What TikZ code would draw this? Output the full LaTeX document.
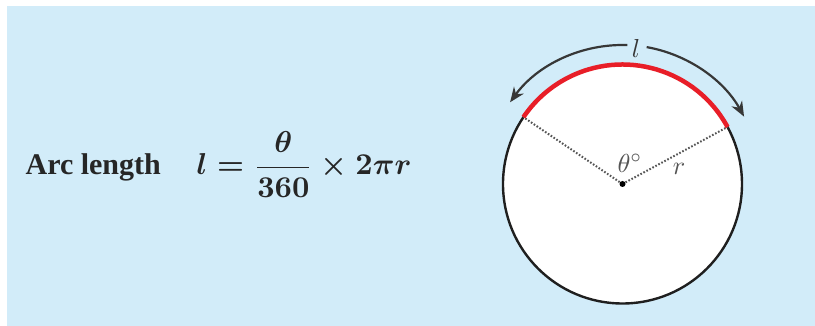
\documentclass[tikz,border=0pt]{standalone}
\usepackage{fontspec}
\newfontfamily\timesfont{Liberation Serif}
\usetikzlibrary{arrows.meta,calc}
\definecolor{bgblue}{RGB}{210,236,249}
\definecolor{arcred}{RGB}{232,30,40}
\definecolor{arrgray}{RGB}{55,55,55}
\definecolor{lblgray}{RGB}{85,85,85}
\tikzset{
  circleline/.style={line width=2.4pt, draw=black!88, fill=white},
  redarc/.style={line width=4.5pt, draw=arcred},
  radline/.style={line width=2pt, draw=lblgray, dash pattern=on 1.6pt off 1.8pt},
  measarrow/.style={line width=2.2pt, draw=arrgray, -{Stealth[length=15pt,width=12pt]}},
  smalllbl/.style={text=lblgray, scale=2.6, inner sep=0pt},
}
\begin{document}
\begin{tikzpicture}[x=1pt,y=1pt]
\useasboundingbox (0,0) rectangle (815,326);
\fill[bgblue] (7,0) rectangle (815,320);
% circle
\coordinate (O) at (622.5,142);
\draw[circleline] (O) circle[radius=119.5];
% radii
\coordinate (A) at ($(O)+(146:119.5)$);
\coordinate (B) at ($(O)+(28.5:119.5)$);
\draw[radline] (O) -- (A);
\draw[radline] (O) -- (B);
% red arc
\draw[redarc] (B) arc[start angle=28.5, end angle=146, radius=119.5];
\fill[black] (O) circle[radius=3pt];
% measuring arrows
\coordinate (P1) at ($(O)+(88:139)$);
\coordinate (P2) at ($(O)+(80:139)$);
\draw[measarrow] (P1) arc[start angle=88, end angle=144, radius=139];
\draw[measarrow] (P2) arc[start angle=80, end angle=29, radius=139];
\node[smalllbl, text=arrgray] (l) at (636,278) {$l$};
\node[smalllbl] (theta) at (630,163) {$\theta^\circ$};
\node[smalllbl] (r) at (679,157) {$r$};
% formula
\node[anchor=base west, inner sep=0pt, text=black!85, scale=3] (txt) at (25,151)
  {\timesfont\bfseries Arc length};
\node[anchor=base west, inner sep=0pt, text=black!85, scale=3.02, font=\mathversion{bold}] (formula) at (196,151)
  {$\displaystyle l=\frac{\theta}{360}\times 2\pi r$};
\end{tikzpicture}
\end{document}
